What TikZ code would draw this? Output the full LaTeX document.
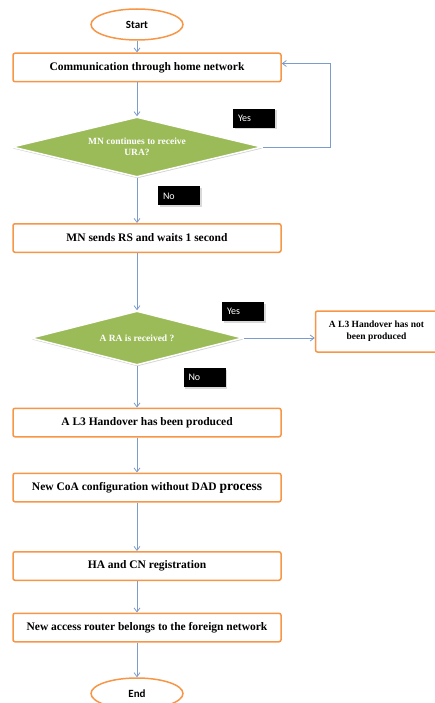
\documentclass[tikz,border=0pt]{standalone}
\usepackage{fontspec}
\setmainfont{Liberation Serif}
\newfontfamily\calib{Carlito}
\usepackage{xcolor}
\usetikzlibrary{arrows.meta,positioning,shapes.geometric,shadows}

\definecolor{boxorange}{HTML}{F79646}
\definecolor{lineblue}{HTML}{7C9DCC}
\definecolor{decgreen}{HTML}{9BBB59}

\begin{document}
\begin{tikzpicture}[x=1pt, y=1pt, >={Straight Barb[length=4pt,width=6pt]},
    proc/.style={rectangle, draw=boxorange, line width=1.5pt, rounded corners=2pt, fill=white, minimum width=268pt, minimum height=28.5pt, font=\fontsize{11.5}{13}\selectfont\bfseries},
    term/.style={ellipse, draw=boxorange, line width=1.5pt, fill=white, minimum width=92pt, minimum height=31pt, font=\calib\fontsize{11}{13}\selectfont\bfseries},
    decision/.style={diamond, aspect=4, fill=decgreen, draw=white, line width=1.5pt, inner sep=0pt, text=white, align=center, font=\fontsize{9.5}{11}\selectfont\bfseries, drop shadow={opacity=0.35, shadow xshift=0.5pt, shadow yshift=-1.5pt}},
    answer/.style={rectangle, fill=black, text=white, minimum height=19pt, text width=32pt, inner xsep=5pt, align=left, font=\calib\fontsize{10}{12}\selectfont, drop shadow={opacity=0.3, shadow xshift=1.5pt, shadow yshift=-1.5pt}},
    flow/.style={->, draw=lineblue, line width=0.8pt}]
    \useasboundingbox (0,0) rectangle (435,-703);

    \node [term] at (137,-24.5) (start) {Start};
    \node [proc] at (147,-67.5) (home) {Communication through home network};
    \node [decision, minimum width=250pt, minimum height=60pt] at (137,-147) (ura) {MN continues to receive\\URA?};
    \node [proc] at (147,-238) (rs) {MN sends RS and waits 1 second};
    \node [decision, minimum width=212pt, minimum height=54pt] at (137,-338) (ra) {A RA is received ?};
    \node [rectangle, draw=boxorange, line width=1.5pt, rounded corners=2pt, fill=white, minimum width=122pt, minimum height=41pt, align=center, font=\fontsize{9.5}{12}\selectfont\bfseries, right=71pt of ra, yshift=6.5pt] (nothd) {A L3 Handover has not\\been produced};
    \node [proc] at (147,-422.5) (hd) {A L3 Handover has been produced};
    \node [proc] at (147,-487.5) (coa) {New CoA configuration without DAD {\fontsize{13.5}{14}\selectfont process}};
    \node [proc] at (147,-566) (reg) {HA and CN registration};
    \node [proc] at (147,-627.5) (router) {New access router belongs to the foreign network};
    \node [term] at (137,-693.5) (end) {End};

    % Yes / No tags
    \node [answer] at (254,-118.5) (yes1) {Yes};
    \node [answer] at (179,-196) (no1) {No};
    \node [answer] at (243,-311.5) (yes2) {Yes};
    \node [answer] at (204.5,-377.5) (no2) {No};

    \draw [flow] (start.south) -- (start.south |- home.north);
    \draw [flow] (home.south -| start.south) -- (ura.north);
    \draw [flow] (ura.east) -- ++(68,0) |- ([yshift=4pt]home.east);
    \draw [flow] (ura.south) -- (ura.south |- rs.north);
    \draw [flow] (rs.south -| ra.north) -- (ra.north);
    \draw [flow] (ra.east) -- (ra.east -| nothd.west);
    \draw [flow] (ra.south) -- (ra.south |- hd.north);
    \draw [flow] (hd.south -| ra.south) -- (ra.south |- coa.north);
    \draw [flow] (coa.south -| ra.south) -- (ra.south |- reg.north);
    \draw [flow] (reg.south -| ra.south) -- (ra.south |- router.north);
    \draw [flow] (router.south -| end.north) -- (end.north);
\end{tikzpicture}
\end{document}
